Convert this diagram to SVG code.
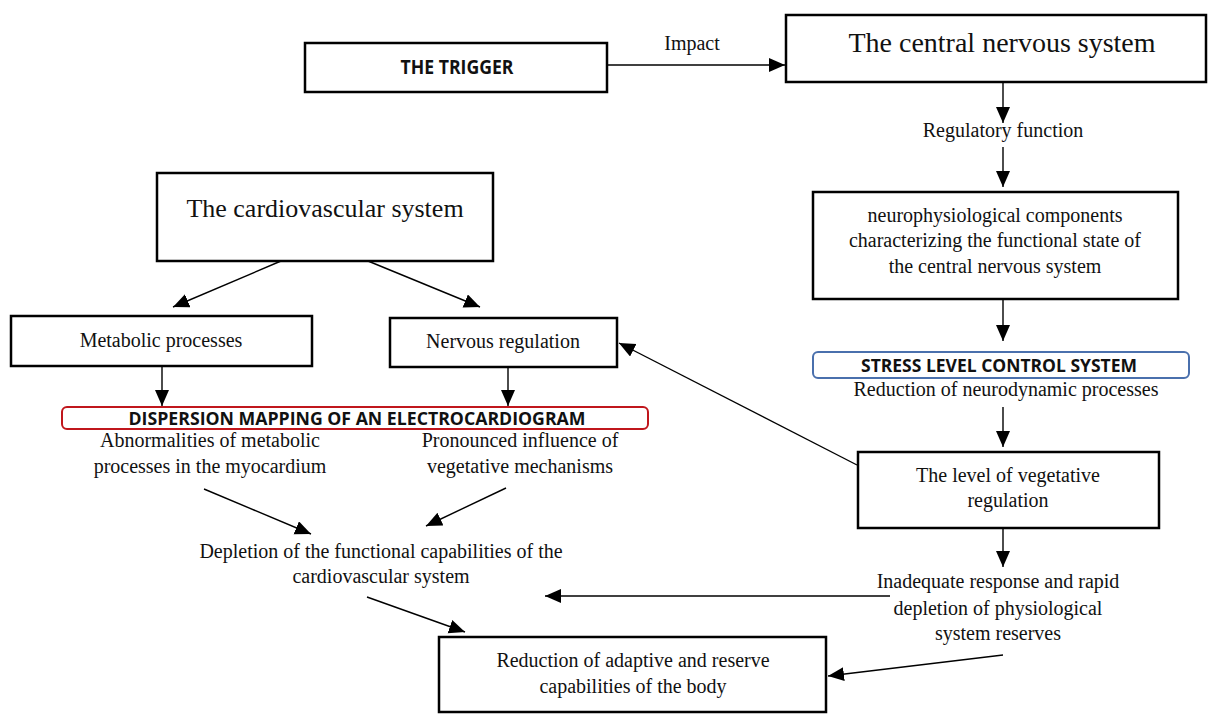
<svg xmlns="http://www.w3.org/2000/svg" width="1208" height="714" viewBox="0 0 1208 714">
<defs>
<marker id="arr" markerUnits="userSpaceOnUse" markerWidth="18" markerHeight="16" refX="16" refY="7" orient="auto">
<path d="M0,0 L16,7 L0,14 z" fill="#000"/>
</marker>
<style>
.box{fill:#fff;stroke:#000;stroke-width:2.5}
.t{font-family:"Liberation Serif","Times New Roman",serif;font-size:20px;fill:#111;text-anchor:middle}
.b{font-family:"Open Sans","Liberation Sans",sans-serif;font-weight:bold;font-size:18px;fill:#111;text-anchor:middle}
.c{stroke:#000;stroke-width:1.4;fill:none;marker-end:url(#arr)}
</style>
</defs>
<rect width="1208" height="714" fill="#fff"/>
<g id="connectors">
<line class="c" x1="607" y1="65" x2="785" y2="65"/>
<line class="c" x1="1003" y1="82" x2="1003" y2="123"/>
<line class="c" x1="1003" y1="147" x2="1003" y2="187"/>
<line class="c" x1="1003" y1="299" x2="1003" y2="341"/>
<line class="c" x1="1003" y1="407" x2="1003" y2="447"/>
<line class="c" x1="1003" y1="528" x2="1003" y2="567"/>
<line class="c" x1="857" y1="465" x2="619" y2="343"/>
<line class="c" x1="281" y1="261" x2="173" y2="307"/>
<line class="c" x1="368" y1="261" x2="480" y2="307"/>
<line class="c" x1="162" y1="366" x2="162" y2="406"/>
<line class="c" x1="508" y1="367" x2="508" y2="406"/>
<line class="c" x1="204" y1="489" x2="311" y2="534"/>
<line class="c" x1="506" y1="488" x2="426" y2="526"/>
<line class="c" x1="367" y1="597" x2="465" y2="632"/>
<line class="c" x1="890" y1="596" x2="545" y2="596"/>
<line class="c" x1="1003" y1="655" x2="828" y2="676"/>
</g>
<g id="impact-label"><text class="t" x="692" y="50">Impact</text></g>
<g id="trigger"><rect class="box" x="305" y="43" width="302" height="49"/><text class="b" x="457" y="74" style="font-size:19px" textLength="113" lengthAdjust="spacingAndGlyphs">THE TRIGGER</text></g>
<g id="cns"><rect class="box" x="786" y="15" width="420" height="67"/><text class="t" x="1002" y="52" style="font-size:28px">The central nervous system</text></g>
<g id="regulatory-label"><text class="t" x="1003" y="137">Regulatory function</text></g>
<g id="neuro"><rect class="box" x="813" y="192" width="365" height="107"/>
<text class="t" x="995" y="222">neurophysiological components</text>
<text class="t" x="995" y="247">characterizing the functional state of</text>
<text class="t" x="995" y="273">the central nervous system</text></g>
<g id="stress"><rect x="813" y="352" width="376" height="26" rx="5" fill="#fff" stroke="#4a70ad" stroke-width="2"/><text class="b" x="999" y="372" textLength="276" lengthAdjust="spacingAndGlyphs">STRESS LEVEL CONTROL SYSTEM</text></g>
<g id="neurodynamic"><text class="t" x="1006" y="396">Reduction of neurodynamic processes</text></g>
<g id="vegetative"><rect class="box" x="858" y="452" width="301" height="76"/>
<text class="t" x="1008" y="482">The level of vegetative</text>
<text class="t" x="1008" y="507">regulation</text></g>
<g id="inadequate"><text class="t" x="998" y="588">Inadequate response and rapid</text>
<text class="t" x="998" y="615">depletion of physiological</text>
<text class="t" x="998" y="640">system reserves</text></g>
<g id="cardio"><rect class="box" x="157" y="173" width="336" height="88"/><text class="t" x="325" y="217" style="font-size:26px">The cardiovascular system</text></g>
<g id="metabolic"><rect class="box" x="11" y="316" width="301" height="50"/><text class="t" x="161" y="347">Metabolic processes</text></g>
<g id="nervous"><rect class="box" x="390" y="318" width="227" height="49"/><text class="t" x="503" y="348">Nervous regulation</text></g>
<g id="dispersion"><rect x="62" y="407" width="586" height="22" rx="5" fill="#fff" stroke="#c0161c" stroke-width="2"/><text class="b" x="357" y="425" textLength="457" lengthAdjust="spacingAndGlyphs">DISPERSION MAPPING OF AN ELECTROCARDIOGRAM</text></g>
<g id="abnormalities"><text class="t" x="210" y="447">Abnormalities of metabolic</text><text class="t" x="210" y="473">processes in the myocardium</text></g>
<g id="pronounced"><text class="t" x="520" y="447">Pronounced influence of</text><text class="t" x="520" y="473">vegetative mechanisms</text></g>
<g id="depletion"><text class="t" x="381" y="558">Depletion of the functional capabilities of the</text><text class="t" x="381" y="583">cardiovascular system</text></g>
<g id="reduction"><rect class="box" x="439" y="637" width="387" height="75"/>
<text class="t" x="633" y="667">Reduction of adaptive and reserve</text>
<text class="t" x="633" y="693">capabilities of the body</text></g>
</svg>
